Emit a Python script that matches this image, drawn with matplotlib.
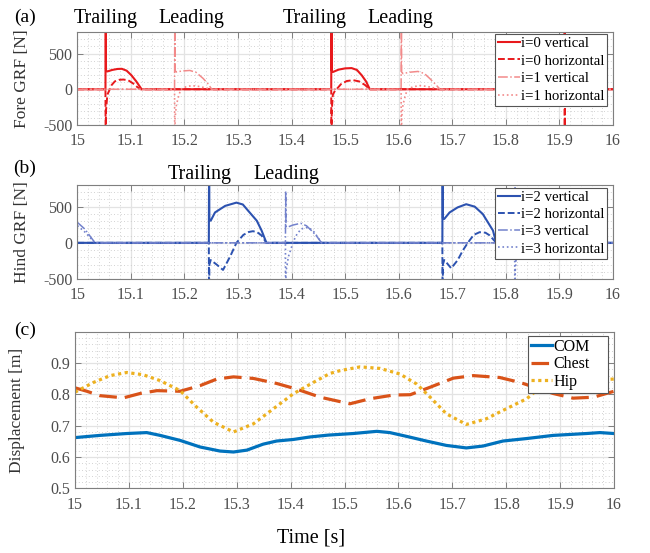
#!/usr/bin/env python

import numpy as np
from matplotlib import pyplot as plt
from matplotlib.ticker import MultipleLocator

plt.rcParams['font.family'] = ['Liberation Serif', 'DejaVu Serif']
plt.rcParams['axes.unicode_minus'] = False

# ---- Data ----
# (a) fore legs, i=0 trailing / i=1 leading
fore0_vert_t = [15.0, 15.0525, 15.053, 15.0535, 15.056, 15.065, 15.075, 15.083, 15.092, 15.101, 15.110, 15.120,
                15.474, 15.4745, 15.475, 15.477, 15.488, 15.500, 15.512, 15.522, 15.531, 15.539, 15.546,
                15.9095, 15.910, 15.9105, 16.0]
fore0_vert_v = [0, 0, 1200, 260, 249, 270, 284, 286, 260, 195, 110, 0,
                0, 1200, 260, 241, 275, 292, 296, 270, 195, 110, 0,
                0, 1200, 0, 0]
fore0_horz_t = [15.0, 15.0525, 15.053, 15.0535, 15.056, 15.060, 15.064, 15.070, 15.078, 15.086, 15.095, 15.104, 15.112, 15.118,
                15.474, 15.4745, 15.475, 15.477, 15.481, 15.484, 15.492, 15.503, 15.515, 15.526, 15.537, 15.546,
                15.9095, 15.910, 15.9105, 16.0]
fore0_horz_v = [0, 0, -1200, -300, -77, -10, 59, 110, 132, 136, 125, 82, 30, 0,
                0, -1200, -300, -77, -20, 0, 70, 115, 127, 110, 60, 0,
                0, -1200, 0, 0]
fore1_vert_t = [15.0, 15.1815, 15.182, 15.1825, 15.185, 15.195, 15.210, 15.222, 15.235, 15.244, 15.251,
                15.6045, 15.605, 15.6055, 15.608, 15.620, 15.636, 15.648, 15.658, 15.668, 15.677, 16.0]
fore1_vert_v = [0, 0, 1200, 260, 241, 255, 263, 235, 150, 75, 0,
                0, 1200, 240, 218, 238, 249, 220, 150, 75, 0, 0]
fore1_horz_t = [15.0, 15.1815, 15.182, 15.1825, 15.185, 15.189, 15.193, 15.203, 15.213, 15.225, 15.238, 15.251,
                15.6045, 15.605, 15.6055, 15.608, 15.612, 15.616, 15.627, 15.639, 15.651, 15.664, 15.677, 16.0]
fore1_horz_v = [0, 0, -1200, -400, -214, -100, 0, 35, 50, 42, 22, 0,
                0, -1200, -400, -214, -100, 0, 35, 50, 42, 22, 0, 0]

# (b) hind legs, i=2 trailing / i=3 leading
hind2_vert_t = [15.0, 15.2455, 15.246, 15.2465, 15.249, 15.257, 15.276, 15.297, 15.309, 15.319, 15.335, 15.344, 15.353,
                15.6815, 15.682, 15.6825, 15.685, 15.695, 15.710, 15.726, 15.742, 15.757, 15.776, 15.782, 16.0]
hind2_vert_v = [0, 0, 1200, 320, 306, 420, 511, 556, 530, 443, 306, 170, 0,
                0, 1200, 340, 330, 420, 490, 534, 500, 398, 170, 0, 0]
hind2_horz_t = [15.0, 15.2455, 15.246, 15.2465, 15.249, 15.260, 15.272, 15.285, 15.297, 15.310, 15.320, 15.328, 15.336, 15.344, 15.353,
                15.6815, 15.682, 15.6825, 15.685, 15.690, 15.698, 15.710, 15.720, 15.729, 15.740, 15.751, 15.762, 15.770, 15.782, 16.0]
hind2_horz_v = [0, 0, -1200, -300, -238, -300, -375, -193, 0, 110, 150, 161, 145, 102, 0,
                0, -1200, -300, -238, -280, -352, -240, -102, 0, 110, 147, 140, 102, 0, 0]
hind3_vert_t = [15.0, 15.014, 15.033, 15.3885, 15.389, 15.3895, 15.392, 15.402, 15.417, 15.428, 15.437, 15.447, 15.456,
                15.8165, 15.817, 15.8175, 15.820, 15.835, 15.850, 15.870, 15.885, 16.0]
hind3_vert_v = [283, 190, 0, 0, 715, 230, 215, 245, 270, 235, 170, 90, 0,
                0, 1200, 230, 215, 250, 270, 160, 0, 0]
hind3_horz_t = [15.0, 15.014, 15.033, 15.3885, 15.389, 15.3895, 15.394, 15.400, 15.402, 15.410, 15.418, 15.431, 15.442, 15.456,
                15.8165, 15.817, 15.8175, 15.820, 15.826, 15.835, 15.850, 15.870, 15.885, 16.0]
hind3_horz_v = [238, 150, 0, 0, -1200, -400, -193, -57, 0, 120, 193, 215, 150, 0,
                0, -1200, -400, -150, 0, 120, 200, 150, 0, 0]

# (c) displacements
com_t = [15.0, 15.046, 15.096, 15.133, 15.158, 15.195, 15.232, 15.269, 15.294, 15.319, 15.349, 15.374, 15.405,
         15.436, 15.470, 15.516, 15.560, 15.584, 15.615, 15.652, 15.689, 15.726, 15.757, 15.794, 15.838, 15.887,
         15.949, 15.974, 16.0]
com_v = [0.662, 0.669, 0.675, 0.678, 0.669, 0.653, 0.632, 0.619, 0.616, 0.622, 0.641, 0.651, 0.656,
         0.664, 0.670, 0.675, 0.682, 0.678, 0.666, 0.651, 0.637, 0.629, 0.635, 0.651, 0.659, 0.669,
         0.675, 0.678, 0.675]
chest_t = [15.0, 15.022, 15.046, 15.090, 15.121, 15.152, 15.195, 15.232, 15.263, 15.294, 15.331, 15.374, 15.411,
           15.455, 15.510, 15.547, 15.591, 15.622, 15.659, 15.702, 15.739, 15.788, 15.826, 15.887, 15.924, 15.962, 16.0]
chest_v = [0.821, 0.810, 0.796, 0.789, 0.803, 0.812, 0.810, 0.828, 0.849, 0.856, 0.851, 0.835, 0.817,
           0.791, 0.770, 0.786, 0.798, 0.799, 0.823, 0.852, 0.860, 0.854, 0.838, 0.803, 0.788, 0.791, 0.810]
hip_t = [15.0, 15.034, 15.065, 15.096, 15.126, 15.158, 15.195, 15.226, 15.257, 15.294, 15.331, 15.368, 15.405,
         15.442, 15.473, 15.492, 15.529, 15.566, 15.603, 15.634, 15.659, 15.689, 15.726, 15.763, 15.800, 15.838,
         15.856, 15.900, 15.950, 16.0]
hip_v = [0.807, 0.838, 0.860, 0.870, 0.863, 0.844, 0.812, 0.759, 0.711, 0.680, 0.706, 0.754, 0.802,
         0.838, 0.867, 0.876, 0.888, 0.883, 0.865, 0.833, 0.791, 0.738, 0.704, 0.722, 0.754, 0.786,
         0.812, 0.830, 0.845, 0.849]

x_ticks = [15.0, 15.1, 15.2, 15.3, 15.4, 15.5, 15.6, 15.7, 15.8, 15.9, 16.0]
x_tick_labels = ['15', '15.1', '15.2', '15.3', '15.4', '15.5', '15.6', '15.7', '15.8', '15.9', '16']
grf_ticks = [-500, 0, 500]
disp_ticks = [0.5, 0.6, 0.7, 0.8, 0.9]

# ---- Plot config ----
tick_color = '#4d4d4d'
spine_color = '#7f7f7f'
red = '#e8191c'
pink = '#f28a8a'
blue = '#2c52b0'
lblue = '#7382cc'


def style_axes(ax, minor_y):
    ax.set_xlim(15, 16)
    ax.set_xticks(x_ticks)
    ax.set_xticklabels(x_tick_labels)
    ax.xaxis.set_minor_locator(MultipleLocator(0.02))
    ax.yaxis.set_minor_locator(MultipleLocator(minor_y))
    ax.grid(which='major', color='#e3e3e3', lw=0.9, ls='-')
    ax.grid(which='minor', color='#c4c4c4', lw=0.6, ls=(0, (1, 3)))
    ax.set_axisbelow(True)
    ax.tick_params(which='both', direction='in', top=True, right=True,
                   colors=spine_color, labelcolor=tick_color, labelsize=11.5)
    ax.tick_params(which='major', length=4, width=0.7)
    ax.tick_params(which='minor', length=0)
    ax.tick_params(axis='x', pad=6)
    ax.tick_params(axis='y', pad=3.5)
    for s in ax.spines.values():
        s.set_color(spine_color)
        s.set_linewidth(0.8)


def boxed_legend(ax, box, fontsize, handlelength, labelspacing):
    # box = (left, top, width) in axes coords, MATLAB-like fixed legend box
    leg = ax.legend(loc='upper left', bbox_to_anchor=(box[0], box[1] - 0.01, box[2], 0.01),
                    mode='expand', borderaxespad=0, fontsize=fontsize,
                    handlelength=handlelength, handletextpad=0.1, labelspacing=labelspacing,
                    borderpad=0.2, fancybox=False, framealpha=1, edgecolor='#555555')
    leg.get_frame().set_linewidth(0.8)
    return leg


fig = plt.figure(figsize=(6.5, 5.53), dpi=100)

# (a)
ax1 = fig.add_axes([0.119, 0.774, 0.824, 0.168])
ax1.plot(fore0_vert_t, fore0_vert_v, color=red, lw=1.5, ls='-', label='i=0 vertical')
ax1.plot(fore0_horz_t, fore0_horz_v, color=red, lw=1.4, ls=(0, (3.5, 1.5)), label='i=0 horizontal')
ax1.plot(fore1_vert_t, fore1_vert_v, color=pink, lw=1.1, ls='-.', label='i=1 vertical')
ax1.plot(fore1_horz_t, fore1_horz_v, color=pink, lw=1.2, ls=':', label='i=1 horizontal')
ax1.set_ylim(-500, 800)
ax1.set_yticks(grf_ticks)
style_axes(ax1, 100)
ax1.set_ylabel('Fore GRF [N]', fontsize=12.5, color='#333333')
ax1.yaxis.set_label_coords(-0.088, 0.5)
boxed_legend(ax1, ((495 - 77.3) / 536, 1 - 1.5 / 93, 112 / 536), 10.6, 1.5, 0.3)

# (b)
ax2 = fig.add_axes([0.119, 0.4955, 0.824, 0.170])
ax2.plot(hind2_vert_t, hind2_vert_v, color=blue, lw=1.5, ls='-', label='i=2 vertical')
ax2.plot(hind2_horz_t, hind2_horz_v, color=blue, lw=1.4, ls=(0, (3.5, 1.5)), label='i=2 horizontal')
ax2.plot(hind3_vert_t, hind3_vert_v, color=lblue, lw=1.1, ls='-.', label='i=3 vertical')
ax2.plot(hind3_horz_t, hind3_horz_v, color=lblue, lw=1.2, ls=':', label='i=3 horizontal')
ax2.set_ylim(-500, 800)
ax2.set_yticks(grf_ticks)
style_axes(ax2, 100)
ax2.set_ylabel('Hind GRF [N]', fontsize=12.5, color='#333333')
ax2.yaxis.set_label_coords(-0.088, 0.5)
boxed_legend(ax2, ((495 - 77.3) / 536, 1 - 3 / 94, 112 / 536), 10.6, 1.5, 0.26)

# (c)
ax3 = fig.add_axes([0.1154, 0.117, 0.8292, 0.283])
ax3.plot(com_t, com_v, color='#0072bd', lw=2.3, ls='-', label='COM')
ax3.plot(chest_t, chest_v, color='#d95319', lw=2.3, ls=(0, (5.5, 2.5)), label='Chest')
ax3.plot(hip_t, hip_v, color='#edb120', lw=2.3, ls=(0, (1, 1.1)), label='Hip')
ax3.set_ylim(0.5, 1.0)
ax3.set_yticks(disp_ticks)
ax3.set_yticklabels(['0.5', '0.6', '0.7', '0.8', '0.9'])
style_axes(ax3, 0.02)
ax3.set_ylabel('Displacement [m]', fontsize=12.5, color='#333333')
ax3.yaxis.set_label_coords(-0.093, 0.5)
boxed_legend(ax3, ((528 - 75) / 539, 1 - 4 / 156.6, 80 / 539), 11.5, 1.3, 0.08)

# Phase annotations
for x, label in [(15.052, 'Trailing'), (15.213, 'Leading'), (15.444, 'Trailing'), (15.604, 'Leading')]:
    ax1.text(x, 1.0 + 14 / 93, label, transform=ax1.get_xaxis_transform(),
             ha='center', va='center', fontsize=14.5)
for x, label in [(15.229, 'Trailing'), (15.391, 'Leading')]:
    ax2.text(x, 1.0 + 10 / 94, label, transform=ax2.get_xaxis_transform(),
             ha='center', va='center', fontsize=14.5)

# Panel labels and shared x label
fig.text(25 / 650, 1 - 17 / 553, '(a)', ha='center', va='center', fontsize=14)
fig.text(25 / 650, 1 - 168 / 553, '(b)', ha='center', va='center', fontsize=14)
fig.text(25 / 650, 1 - 330 / 553, '(c)', ha='center', va='center', fontsize=14)
fig.text(311 / 650, 1 - 538 / 553, 'Time [s]', ha='center', va='center', fontsize=14.5)

fig.savefig('out.png', dpi=100)
